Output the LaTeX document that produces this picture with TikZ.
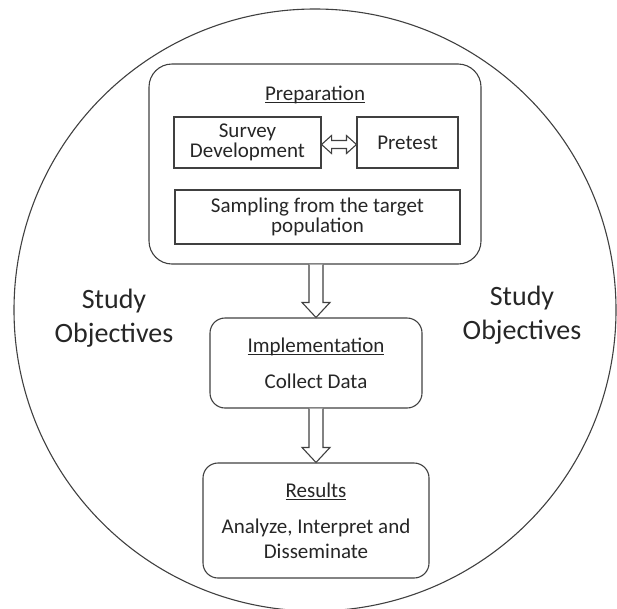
\documentclass[tikz,border=0pt]{standalone}
\usepackage{fontspec}
\setmainfont{Carlito}
\usetikzlibrary{positioning, calc}
\newcommand{\titleline}[1]{\setbox0\hbox{#1}\rlap{\rule[-2.6pt]{\wd0}{1.1pt}}\box0}
\tikzset{
    outline/.style={draw=black!75, line width=1.1pt},
    frame/.style={outline, align=center, inner sep=0pt, text=black!85,
        font=\fontsize{21}{20}\selectfont},
    roundframe/.style={frame, rounded corners=15pt, font=\fontsize{21}{25}\selectfont},
    blockarrow/.style={outline, fill=white, line join=miter},
    side/.style={align=center, text=black!85, font=\fontsize{28}{34}\selectfont}
}

\begin{document}
\begin{tikzpicture}[x=1pt, y=-1pt]
    \useasboundingbox (0,0) rectangle (617,608);
    % Outer circle
    \draw[outline] (315,310) circle (301);
    % Preparation block
    \node[roundframe, rounded corners=23pt, minimum width=332, minimum height=200] (prep) at (315,164) {};
    \node[roundframe, draw=none] (preptitle) at (315,95) {\titleline{Preparation}};
    \node[frame, minimum width=147, minimum height=51] (survey) at (247.5,142.5) {Survey\\Development};
    \node[frame, minimum width=101, minimum height=51] (pretest) at (407.5,142.5) {Pretest};
    \node[frame, minimum width=285, minimum height=54] (sampling) at (317.5,217) {Sampling from the target\\population};
    % Implementation and results
    \node[roundframe, minimum width=212, minimum height=90] (impl) at (316,363)
        {\titleline{Implementation}\\[11pt]Collect Data};
    \node[roundframe, minimum width=226, minimum height=115] (res) at (316,520.5)
        {\titleline{Results}\\[11pt]Analyze, Interpret and\\Disseminate};
    % Study objectives
    \node[side] (objleft) at (114,318) {Study\\Objectives};
    \node[side] (objright) at (522,315) {Study\\Objectives};
    % Double arrow survey <-> pretest
    \coordinate (l) at ($(survey.east)+(0,2)$);
    \coordinate (r) at ($(pretest.west)+(0,2)$);
    \draw[blockarrow] (l) -- ++(10,-9) -- ++(0,5) -- ($(r)+(-10,-4)$) -- ++(0,-5) -- (r)
        -- ++(-10,9) -- ++(0,-5) -- ($(l)+(10,4)$) -- ++(0,5) -- cycle;
    % Block arrows down
    \foreach \a/\b in {prep/impl, impl/res}
        \draw[blockarrow] ($(\a.south -| \b.north)+(-7,0)$) -- ($(\b.north)+(-7,-15)$) -- ++(-7,0)
            -- (\b.north) -- ($(\b.north)+(14,-15)$) -- ++(-7,0) -- ($(\a.south -| \b.north)+(7,0)$);
\end{tikzpicture}
\end{document}
